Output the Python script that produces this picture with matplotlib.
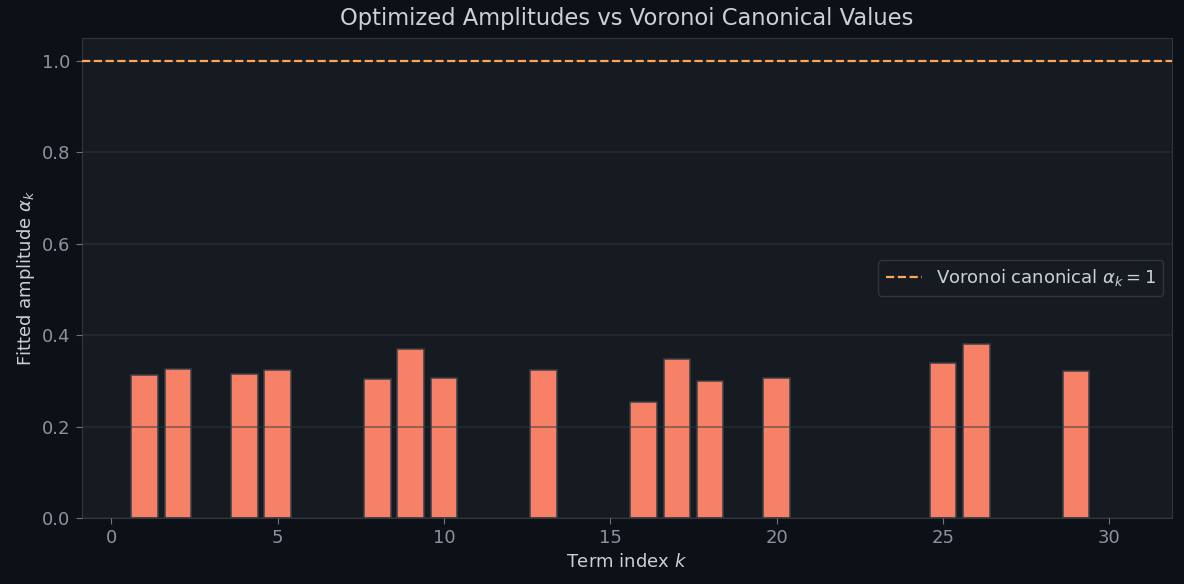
import numpy as np
import matplotlib
matplotlib.use('Agg')
import matplotlib.pyplot as plt

# term indices and fitted amplitudes (zeros where the term was dropped)
terms = np.arange(1, 31)
amp_terms = [1, 2, 4, 5, 8, 9, 10, 13, 16, 17, 18, 20, 25, 26, 29]
amp_values = [0.312, 0.325, 0.316, 0.323, 0.303, 0.369, 0.307, 0.323,
              0.253, 0.347, 0.299, 0.307, 0.340, 0.380, 0.321]
canonical = 1.0

amplitudes = np.zeros(len(terms))
for k, v in zip(amp_terms, amp_values):
    amplitudes[k - 1] = v

# colours
bg_fig = '#0d1117'
bg_ax = '#161b22'
txt = '#c9d1d9'
tick_c = '#8b949e'
spine_c = '#30363d'

fig = plt.figure(figsize=(11.84, 5.84), dpi=100, facecolor=bg_fig)
ax = fig.add_axes([0.069, 0.113, 0.921, 0.822])
ax.set_facecolor(bg_ax)

# no outline on dropped (zero) terms
lws = [1.1 if a > 0 else 0 for a in amplitudes]
ax.bar(terms, amplitudes, width=0.8, color='#f78166', edgecolor='#3a3f47',
       linewidth=lws)
ax.axhline(canonical, color='#ffa657', linestyle='--', lw=1.6, zorder=3,
           label=r'Voronoi canonical $\alpha_k = 1$')

ax.set_ylim(0, 1.05)
ax.set_axisbelow(False)
ax.grid(axis='y', color='#30363d', lw=1.1, alpha=0.6)
ax.grid(axis='x', visible=False)

for s in ax.spines.values():
    s.set_color(spine_c)
ax.tick_params(colors=tick_c, labelsize=13, length=4.5)
ax.tick_params(axis='both', color='#6e7681')

ax.set_xlabel(r'Term index $k$', color=txt, fontsize=13)
ax.set_ylabel(r'Fitted amplitude $\alpha_k$', color=txt, fontsize=13)
ax.set_title('Optimized Amplitudes vs Voronoi Canonical Values', color=txt,
             fontsize=16.3, pad=9)

leg = ax.legend(loc='center right', fontsize=13, facecolor=bg_ax,
                edgecolor=spine_c, labelcolor=txt, framealpha=1)

plt.savefig('out.png', dpi=100, facecolor=bg_fig)
